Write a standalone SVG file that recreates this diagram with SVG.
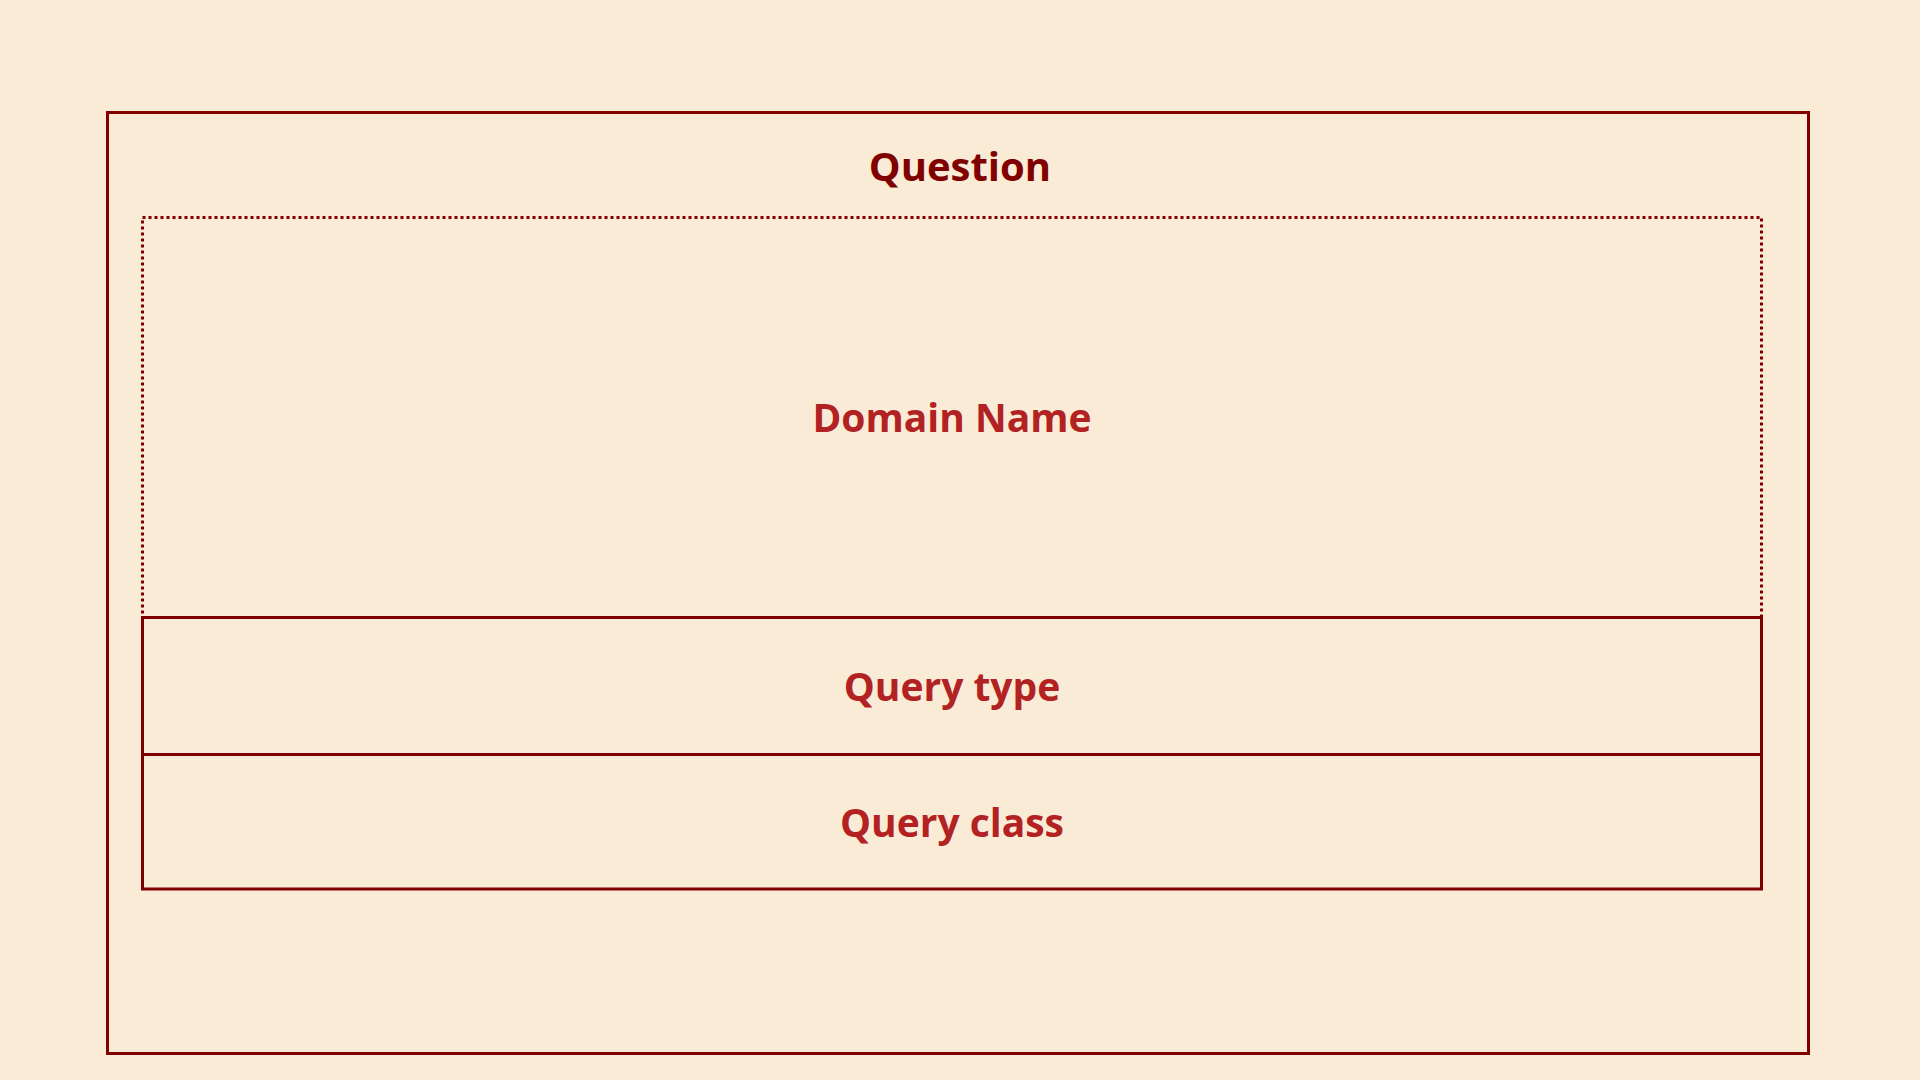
<svg xmlns="http://www.w3.org/2000/svg" width="1920" height="1080" viewBox="0 0 1920 1080">
<style>
.frame{fill:none;stroke:#800000;stroke-width:3}
.dotted{fill:none;stroke:#800000;stroke-width:3;stroke-dasharray:3 3}
.title{font-family:"Open Sans","Liberation Sans",sans-serif;font-weight:700;font-size:40px;fill:#800000;text-anchor:middle}
.label{font-family:"Open Sans","Liberation Sans",sans-serif;font-weight:700;font-size:39px;fill:#B22222;text-anchor:middle}
</style>
<rect width="1920" height="1080" fill="#FAEBD7"/>
<g id="question">
<rect class="frame" x="107.5" y="112.5" width="1701" height="941"/>
<text class="title" x="960" y="181">Question</text>
</g>
<g id="domain-name">
<rect class="dotted" x="142.5" y="217.5" width="1619" height="400"/>
<text class="label" x="952" y="432">Domain Name</text>
</g>
<g id="query-type">
<rect class="frame" x="142.5" y="617.5" width="1619" height="137"/>
<text class="label" x="952" y="700.5">Query type</text>
</g>
<g id="query-class">
<rect class="frame" x="142.5" y="754.5" width="1619" height="134.5"/>
<text class="label" x="952" y="836.5">Query class</text>
</g>
<g id="connectors"></g>
</svg>
